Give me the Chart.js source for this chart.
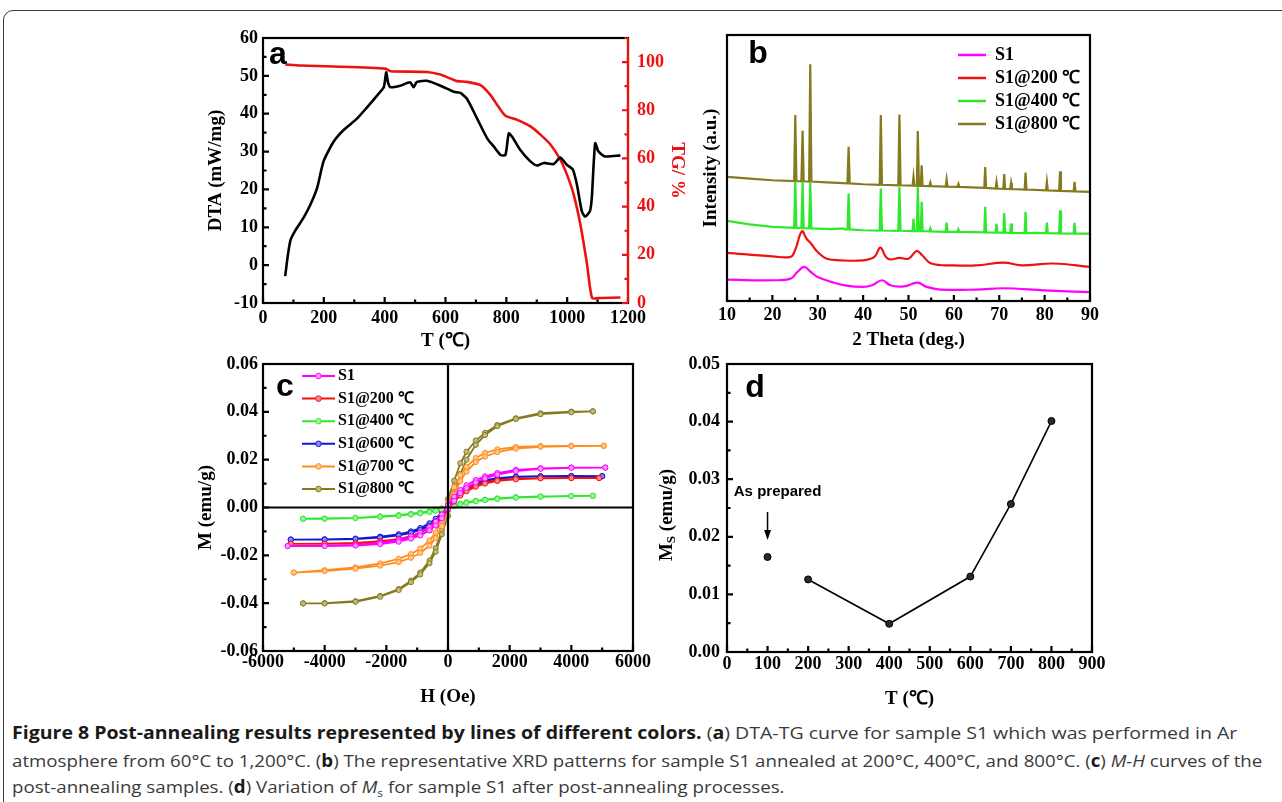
<!DOCTYPE html>
<html>
<head>
<meta charset="utf-8">
<script src="https://cdn.jsdelivr.net/npm/chart.js@4.4.0/dist/chart.umd.min.js"></script>
<style>
  body { margin: 0; background: #fff; width: 1282px; height: 802px; overflow: hidden; position: relative; }
  .frame { position: absolute; left: 3px; top: 10px; width: 1320px; height: 840px; border: 1.5px solid #3a3a3a; border-radius: 10px; }
  canvas { position: absolute; }
  #chartA { left: 190px; top: 20px; }
  #chartB { left: 690px; top: 20px; }
  #chartC { left: 185px; top: 350px; }
  #chartD { left: 655px; top: 348px; }
  .cap { position: absolute; left: 12px; font-family: "Open Sans", "Noto Sans", sans-serif; font-size: 17px; line-height: 20px; color: #3a3a3a; white-space: nowrap; transform-origin: left center; }
  .cap b { color: #1a1a1a; }
</style>
</head>
<body>
<div class="frame"></div>
<canvas id="chartA" width="500" height="340"></canvas>
<canvas id="chartB" width="420" height="340"></canvas>
<canvas id="chartC" width="470" height="365"></canvas>
<canvas id="chartD" width="455" height="367"></canvas>

<div class="cap" data-w="1225" style="top:723px"><b>Figure 8 Post-annealing results represented by lines of different colors.</b> (<b>a</b>) DTA-TG curve for sample S1 which was performed in Ar</div>
<div class="cap" data-w="1250" style="top:751px">atmosphere from 60°C to 1,200°C. (<b>b</b>) The representative XRD patterns for sample S1 annealed at 200°C, 400°C, and 800°C. (<b>c</b>) <i>M-H</i> curves of the</div>
<div class="cap" data-w="773" style="top:777px">post-annealing samples. (<b>d</b>) Variation of <i>M</i><sub style="font-size:11px">s</sub> for sample S1 after post-annealing processes.</div>

<script>
// ---- (a) DTA / TG ----
const dtaTemp = [73, 81, 90, 106, 134, 156, 178, 199, 232, 265, 309, 342, 375, 397, 405, 411, 419, 451, 484, 495,
  506, 539, 583, 627, 649, 671, 704, 737, 759, 781, 797, 808, 819, 846, 879, 901, 923, 956, 977, 999,
  1019, 1032, 1048, 1059, 1075, 1081, 1092, 1103, 1125, 1175];
const dtaSignal = [-2.9, 2.2, 6.5, 9.1, 12.6, 16, 20.4, 27.4, 32.6, 35.7, 38.7, 41.7, 44.8, 47, 50.9, 48.3, 47, 47.4, 48.3, 47,
  48.4, 48.7, 47.4, 45.8, 45.5, 43.9, 38.7, 33.5, 31.3, 29.1, 29.1, 34.8, 33.9, 30.4, 27.4, 26.3, 27, 26.7, 28.4, 26.5,
  25.2, 21.3, 14.3, 12.8, 14.3, 17.8, 32.2, 30, 28.7, 29];
const tgTemp = [73, 123, 232, 402, 419, 539, 583, 638, 671, 715, 748, 770, 797, 836, 879, 912, 945, 977, 999, 1021,
  1043, 1065, 1082, 1109, 1175];
const tgMass = [99, 98.6, 98.2, 97.3, 96.2, 95.9, 94.8, 92.1, 91.8, 90.4, 86.3, 82.2, 77.7, 76, 73.3, 69.9, 65.8, 59.6, 53.4, 45.2,
  32.9, 16.4, 2.1, 2.1, 2.3];

// ---- (b) XRD patterns, [2theta, intensity] ----
const xrdLabels = ['S1', 'S1@200 ℃', 'S1@400 ℃', 'S1@800 ℃'];
const xrdS1 = [[10, 8], [20, 7.8], [24, 8.4], [25.5, 10.9], [27, 12.8], [28.5, 10.9], [30, 9], [33, 7.2], [36, 5.9], [40, 5.3],
  [42, 5.9], [44.2, 7.8], [46, 5.9], [49, 5.5], [52, 6.9], [54, 5.3], [57, 4.3], [65, 4.3], [71, 4.8], [80, 4], [90, 3.3]];
const xrd200 = [[10, 18.1], [20, 16.8], [24, 16.6], [25, 19.1], [26.5, 26.2], [27.5, 23.5], [28.5, 21.6], [30, 18.4], [32, 15.9],
  [35, 15.3], [40, 15.3], [42.5, 16.6], [43.8, 20.1], [45, 16.6], [46, 15.6], [48, 16.2], [50, 15.9], [51.8, 18.8], [53, 17.2],
  [55, 14.1], [60, 13.4], [65, 13.4], [71, 14.4], [75, 13.4], [82, 14.1], [90, 12.8]];
const xrd400 = [[10, 30.1], [15, 28.8], [20, 27.9], [24.8, 27.5], [25.05, 44.8], [25.3, 27.5], [26.4, 27.4], [26.66, 44.8], [26.9, 27.4],
  [28.1, 27.3], [28.35, 44.4], [28.6, 27.3], [33, 27], [35.5, 27.3], [36, 26.9], [36.55, 26.9], [36.8, 40.4], [37.05, 26.9], [40, 26.6],
  [43.65, 26.5], [43.9, 42.3], [44.15, 26.5], [47.75, 26.4], [48, 42.9], [48.25, 26.4], [50.9, 26.3], [51.1, 31], [51.3, 26.3],
  [51.85, 26.3], [52.05, 42.9], [52.3, 26.3], [52.7, 26.3], [52.9, 37.3], [53.1, 26.3], [54.6, 26.2], [54.8, 27.3], [55, 26.2],
  [58.2, 26], [58.4, 29.5], [58.6, 26], [60.8, 26], [61, 26.9], [61.2, 26], [66.7, 25.8], [66.9, 35.4], [67.1, 25.8], [69.2, 25.7],
  [69.4, 29.1], [69.6, 25.7], [70.9, 25.7], [71.1, 33.1], [71.3, 25.7], [72.4, 25.6], [72.6, 29.1], [72.8, 25.6], [75.6, 25.5],
  [75.8, 33.5], [76, 25.5], [78, 25.6], [80.3, 25.5], [80.5, 29.5], [80.7, 25.5], [83.2, 25.4], [83.4, 34.1], [83.6, 25.4],
  [86.4, 25.3], [86.6, 29.4], [86.8, 25.3], [90, 25.3]];
const xrd800 = [[10, 46.7], [15, 46], [20, 45.4], [24.8, 45.1], [25.05, 69.9], [25.3, 45.1], [26.4, 45], [26.66, 64], [26.9, 45],
  [28.1, 44.9], [28.35, 89], [28.6, 44.9], [32, 44.6], [36.55, 44.2], [36.8, 58], [37.05, 44.2], [40, 43.9], [43.65, 43.7],
  [43.9, 69.9], [44.15, 43.7], [47.75, 43.5], [48, 70.1], [48.25, 43.5], [50.9, 43.4], [51.1, 46.7], [51.3, 43.4], [51.85, 43.3],
  [52.05, 63.9], [52.3, 43.3], [52.7, 43.3], [52.9, 51], [53.1, 43.3], [54.6, 43.2], [54.8, 44.5], [55, 43.2], [58.2, 43],
  [58.4, 45.7], [58.6, 43], [60.8, 42.9], [61, 44], [61.2, 42.9], [66.7, 42.5], [66.9, 50.4], [67.1, 42.5], [69.2, 42.3],
  [69.4, 44.8], [69.6, 42.3], [70.9, 42.2], [71.1, 47.7], [71.3, 42.2], [72.4, 42.1], [72.6, 44.4], [72.8, 42.1], [75.6, 41.9],
  [75.8, 48.3], [76, 41.9], [80.3, 41.6], [80.5, 44.8], [80.7, 41.6], [83.2, 41.4], [83.4, 48.8], [83.6, 41.4], [86.4, 41.2],
  [86.6, 44.8], [86.8, 41.2], [90, 41]];

// ---- (c) M-H loops ----
const mhLabels = ['S1', 'S1@200 ℃', 'S1@400 ℃', 'S1@600 ℃', 'S1@700 ℃', 'S1@800 ℃'];
const fieldGrid = [-4000, -3000, -2200, -1600, -1200, -900, -600, -400, -200, 0, 200, 400, 600, 900, 1200, 1600, 2200, 3000, 4000];
const fieldMin = [-5200, -5100, -4700, -5100, -5000, -4700];
const fieldMax = [5100, 4900, 4700, 5000, 5050, 4700];
// ascending-field branch
const mUp = [
  [-0.0161, -0.0161, -0.0159, -0.0153, -0.0143, -0.0130, -0.0117, -0.0095, -0.0075, -0.0045, -0.0008, 0.0028, 0.0060, 0.0082, 0.0105, 0.0122, 0.0138, 0.0152, 0.0162, 0.0166, 0.0167],
  [-0.0152, -0.0152, -0.0150, -0.0145, -0.0138, -0.0128, -0.0115, -0.0095, -0.0074, -0.0044, -0.0008, 0.0025, 0.0050, 0.0068, 0.0087, 0.0100, 0.0111, 0.0118, 0.0122, 0.0123, 0.0123],
  [-0.0047, -0.0047, -0.0044, -0.0039, -0.0034, -0.0029, -0.0025, -0.0019, -0.0014, -0.0008, -0.0002, 0.0006, 0.0013, 0.0019, 0.0026, 0.0031, 0.0036, 0.0041, 0.0045, 0.0048, 0.0049],
  [-0.0134, -0.0134, -0.0132, -0.0126, -0.0117, -0.0106, -0.0094, -0.0076, -0.0058, -0.0034, -0.0005, 0.0028, 0.0055, 0.0075, 0.0096, 0.0110, 0.0120, 0.0127, 0.0130, 0.0131, 0.0131],
  [-0.0272, -0.0266, -0.0256, -0.0243, -0.0228, -0.0210, -0.0190, -0.0160, -0.0128, -0.0078, -0.0015, 0.0055, 0.0110, 0.0150, 0.0190, 0.0213, 0.0232, 0.0246, 0.0254, 0.0257, 0.0258],
  [-0.0401, -0.0401, -0.0394, -0.0373, -0.0345, -0.0312, -0.0280, -0.0233, -0.0185, -0.0112, -0.0035, 0.0060, 0.0140, 0.0200, 0.0262, 0.0303, 0.0340, 0.0370, 0.0390, 0.0398, 0.0402]
];
// descending-field branch (listed in ascending field order)
const mDown = [
  [-0.0161, -0.0160, -0.0156, -0.0148, -0.0136, -0.0121, -0.0106, -0.0083, -0.0060, -0.0030, 0.0010, 0.0045, 0.0073, 0.0093, 0.0115, 0.0130, 0.0144, 0.0157, 0.0164, 0.0167, 0.0167],
  [-0.0152, -0.0151, -0.0148, -0.0141, -0.0132, -0.0120, -0.0105, -0.0083, -0.0060, -0.0030, 0.0008, 0.0038, 0.0060, 0.0076, 0.0093, 0.0105, 0.0114, 0.0120, 0.0123, 0.0124, 0.0124],
  [-0.0047, -0.0046, -0.0043, -0.0037, -0.0032, -0.0026, -0.0021, -0.0015, -0.0010, -0.0004, 0.0003, 0.0009, 0.0016, 0.0022, 0.0028, 0.0033, 0.0038, 0.0043, 0.0046, 0.0048, 0.0049],
  [-0.0134, -0.0133, -0.0130, -0.0122, -0.0112, -0.0100, -0.0086, -0.0066, -0.0047, -0.0022, 0.0008, 0.0040, 0.0065, 0.0083, 0.0102, 0.0114, 0.0123, 0.0129, 0.0131, 0.0132, 0.0131],
  [-0.0272, -0.0262, -0.0250, -0.0234, -0.0215, -0.0195, -0.0172, -0.0138, -0.0105, -0.0055, 0.0020, 0.0085, 0.0135, 0.0170, 0.0207, 0.0228, 0.0243, 0.0253, 0.0257, 0.0258, 0.0258],
  [-0.0401, -0.0400, -0.0392, -0.0370, -0.0341, -0.0306, -0.0272, -0.0222, -0.0170, -0.0095, 0.0035, 0.0112, 0.0185, 0.0233, 0.0280, 0.0312, 0.0345, 0.0373, 0.0394, 0.0401, 0.0402]
];

// ---- (d) saturation magnetisation ----
const annealTemp = [200, 400, 600, 700, 800];
const annealMs = [0.0126, 0.0049, 0.0131, 0.0257, 0.0401];
const preparedTemp = 100;
const preparedMs = 0.0165;

const serif = "'Liberation Serif', 'Times New Roman', serif";
const sans = "'Liberation Sans', Arial, sans-serif";
const tickFont = { family: serif, size: 18, weight: 'bold', lineHeight: 1 };
const titleFont = { family: serif, size: 19, weight: 'bold', lineHeight: 1 };
const xrdColors = ['#ff00ff', '#f01010', '#2ee82e', '#857a1e'];
const mhColors = ['#ff00ff', '#f01010', '#2ee82e', '#1515d0', '#ff8c1e', '#857a1e'];
const mhFills = ['#ff9cff', '#ff8a8a', '#9cf59c', '#8a8aff', '#ffc58a', '#c2b97a'];

function fixSize(w, h) {
  return (s) => {
    if (w != null) s.width = w;
    if (h != null) s.height = h;
  };
}
const intLabel = (v) => String(v);
const decLabel = (v) => (Math.abs(v) < 1e-9 ? '0.00' : v.toFixed(2));

function axis(extra) {
  return Object.assign({
    type: 'linear',
    grid: { display: false, drawTicks: false },
    border: { display: false },
    ticks: { font: tickFont, color: '#000', autoSkip: false, maxRotation: 0 }
  }, extra);
}

// box, inward ticks, panel letter
const framePlugin = {
  id: 'frame',
  afterDatasetsDraw(chart, args, opts) {
    const { ctx, chartArea: a, scales } = chart;
    ctx.save();
    ctx.lineWidth = 2.2;
    ctx.strokeStyle = '#000';
    if (opts.zeroLines) {
      const x0 = scales.x.getPixelForValue(0);
      const y0 = scales.y.getPixelForValue(0);
      ctx.beginPath();
      ctx.moveTo(x0, a.top); ctx.lineTo(x0, a.bottom);
      ctx.moveTo(a.left, y0); ctx.lineTo(a.right, y0);
      ctx.stroke();
    }
    ctx.strokeRect(a.left, a.top, a.right - a.left, a.bottom - a.top);
    (opts.marks || []).forEach((m) => {
      const s = scales[m.scale];
      const half = m.step / 2;
      const n = Math.round((s.max - s.min) / half);
      ctx.strokeStyle = m.color || '#000';
      ctx.beginPath();
      if (m.side === 'right') { ctx.moveTo(a.right, a.top); ctx.lineTo(a.right, a.bottom); }
      for (let i = 0; i <= n; i++) {
        const p = s.getPixelForValue(s.min + i * half);
        const len = i % 2 === 0 ? 6 : 3.5;
        if (m.side === 'bottom') { ctx.moveTo(p, a.bottom); ctx.lineTo(p, a.bottom - len); }
        else if (m.side === 'left') { ctx.moveTo(a.left, p); ctx.lineTo(a.left + len, p); }
        else { ctx.moveTo(a.right, p); ctx.lineTo(a.right - len, p); }
      }
      ctx.stroke();
    });
    if (opts.letter) {
      ctx.fillStyle = '#000';
      ctx.font = 'bold 32px ' + sans;
      ctx.textAlign = 'center';
      ctx.textBaseline = 'middle';
      ctx.fillText(opts.letter, a.left + opts.letterAt[0], a.top + opts.letterAt[1]);
    }
    ctx.restore();
  }
};

// in-plot key drawn from the datasets
const keyPlugin = {
  id: 'key',
  afterDraw(chart, args, opts) {
    if (!opts.len) return;
    const { ctx, chartArea: a } = chart;
    ctx.save();
    ctx.font = `bold ${opts.size}px ${serif}`;
    ctx.textBaseline = 'middle';
    ctx.textAlign = 'left';
    chart.data.datasets.forEach((ds, i) => {
      const x = a.left + opts.x;
      const y = a.top + opts.y + i * opts.dy;
      ctx.strokeStyle = ds.borderColor;
      ctx.lineWidth = opts.width;
      ctx.beginPath(); ctx.moveTo(x, y); ctx.lineTo(x + opts.len, y); ctx.stroke();
      if (opts.marker) {
        ctx.fillStyle = ds.pointBackgroundColor;
        ctx.lineWidth = 1;
        ctx.beginPath(); ctx.arc(x + opts.len / 2, y, 2.8, 0, Math.PI * 2); ctx.fill(); ctx.stroke();
      }
      ctx.fillStyle = '#000';
      ctx.fillText(ds.label, x + opts.len + opts.gap, y);
    });
    ctx.restore();
  }
};

Chart.defaults.animation = false;
Chart.defaults.responsive = false;
Chart.defaults.plugins.legend.display = false;
Chart.defaults.plugins.tooltip.enabled = false;

// (a)
new Chart(document.getElementById('chartA'), {
  type: 'scatter',
  data: {
    datasets: [
      { data: dtaTemp.map((t, i) => ({ x: t, y: dtaSignal[i] })), yAxisID: 'y', showLine: true, borderColor: '#000',
        borderWidth: 2.6, pointRadius: 0, tension: 0.2 },
      { data: tgTemp.map((t, i) => ({ x: t, y: tgMass[i] })), yAxisID: 'tg', showLine: true, borderColor: '#ee1111',
        borderWidth: 2.6, pointRadius: 0, tension: 0.2 }
    ]
  },
  options: {
    layout: { padding: { top: 15, right: 0, left: 0, bottom: 0 } },
    scales: {
      x: axis({ min: 0, max: 1200, afterFit: fixSize(null, 57),
        ticks: { font: tickFont, color: '#000', stepSize: 200, padding: 6, callback: intLabel, autoSkip: false, maxRotation: 0 },
        title: { display: true, text: 'T (℃)', font: titleFont, color: '#000', padding: { top: 0, bottom: 9.5 } } }),
      y: axis({ position: 'left', min: -10, max: 60, afterFit: fixSize(73, null),
        ticks: { font: tickFont, color: '#000', stepSize: 10, padding: 5, callback: intLabel, autoSkip: false },
        title: { display: true, text: 'DTA (mW/mg)', font: titleFont, color: '#000', padding: { top: 16.5, bottom: 0 } } }),
      tg: axis({ position: 'right', min: 0, max: 110, afterFit: fixSize(62, null),
        ticks: { font: tickFont, color: '#ee1111', stepSize: 20, padding: 9, includeBounds: false, callback: intLabel, autoSkip: false },
        title: { display: true, text: 'TG/ %', font: titleFont, color: '#ee1111', padding: { top: 3.5, bottom: 0 } } })
    },
    plugins: {
      frame: {
        letter: 'a', letterAt: [15, 17],
        marks: [
          { scale: 'x', side: 'bottom', step: 200 },
          { scale: 'y', side: 'left', step: 10 },
          { scale: 'tg', side: 'right', step: 20, color: '#ee1111' }
        ]
      }
    }
  },
  plugins: [framePlugin]
});

// (b)
const xrdData = [xrdS1, xrd200, xrd400, xrd800];
new Chart(document.getElementById('chartB'), {
  type: 'scatter',
  data: {
    datasets: xrdLabels.map((label, k) => ({
      label, data: xrdData[k].map((p) => ({ x: p[0], y: p[1] })), showLine: true,
      borderColor: xrdColors[k], borderWidth: 2.2, pointRadius: 0, tension: k < 2 ? 0.4 : 0
    }))
  },
  options: {
    layout: { padding: { top: 15, right: 20, left: 0, bottom: 0 } },
    scales: {
      x: axis({ min: 10, max: 90, afterFit: fixSize(null, 59),
        ticks: { font: tickFont, color: '#000', stepSize: 10, padding: 5, callback: intLabel, autoSkip: false, maxRotation: 0 },
        title: { display: true, text: '2 Theta (deg.)', font: titleFont, color: '#000', padding: { top: 0, bottom: 10.5 } } }),
      y: axis({ min: 0, max: 100, afterFit: fixSize(37, null),
        ticks: { display: false },
        title: { display: true, text: 'Intensity (a.u.)', font: titleFont, color: '#000', padding: { top: 11.5, bottom: 0 } } })
    },
    plugins: {
      frame: { letter: 'b', letterAt: [31, 19], marks: [{ scale: 'x', side: 'bottom', step: 10 }] },
      key: { x: 231, y: 20, dy: 23, len: 28, gap: 9, size: 18, width: 2.5 }
    }
  },
  plugins: [framePlugin, keyPlugin]
});

// (c)
new Chart(document.getElementById('chartC'), {
  type: 'scatter',
  data: {
    datasets: mhLabels.map((label, k) => {
      const field = [fieldMin[k], ...fieldGrid, fieldMax[k]];
      const up = field.map((h, i) => ({ x: h, y: mUp[k][i] }));
      const down = field.map((h, i) => ({ x: h, y: mDown[k][i] })).reverse();
      return {
        label, data: down.concat(up), showLine: true, borderColor: mhColors[k], borderWidth: 1.8,
        pointRadius: 2.6, pointBorderWidth: 1, pointBackgroundColor: mhFills[k], pointBorderColor: mhColors[k]
      };
    })
  },
  options: {
    layout: { padding: { top: 10, right: 22, left: 0, bottom: 0 } },
    scales: {
      x: axis({ min: -6000, max: 6000, afterFit: fixSize(null, 64),
        ticks: { font: tickFont, color: '#000', stepSize: 2000, padding: 2, callback: intLabel, autoSkip: false, maxRotation: 0 },
        title: { display: true, text: 'H (Oe)', font: titleFont, color: '#000', padding: { top: 0, bottom: 8.5 } } }),
      y: axis({ min: -0.06, max: 0.06, afterFit: fixSize(78, null),
        ticks: { font: tickFont, color: '#000', stepSize: 0.02, padding: 5, callback: decLabel, autoSkip: false },
        title: { display: true, text: 'M (emu/g)', font: titleFont, color: '#000', padding: { top: 11.5, bottom: 0 } } })
    },
    plugins: {
      frame: {
        letter: 'c', letterAt: [22, 23], zeroLines: true,
        marks: [
          { scale: 'x', side: 'bottom', step: 2000 },
          { scale: 'y', side: 'left', step: 0.02 }
        ]
      },
      key: { x: 39, y: 12, dy: 22.6, len: 33, gap: 3, size: 16, width: 2, marker: true }
    }
  },
  plugins: [framePlugin, keyPlugin]
});

// (d) y title with subscript, arrow and note for the as-prepared point
const msPlugin = {
  id: 'msNotes',
  afterDraw(chart) {
    const { ctx, chartArea: a, scales } = chart;
    ctx.save();
    // axis title
    ctx.translate(a.left - 60, (a.top + a.bottom) / 2 + 7);
    ctx.rotate(-Math.PI / 2);
    ctx.fillStyle = '#000';
    ctx.textBaseline = 'middle';
    ctx.textAlign = 'left';
    const big = 'bold 19px ' + serif;
    const small = 'bold 13px ' + serif;
    ctx.font = big; const wM = ctx.measureText('M').width; const wRest = ctx.measureText(' (emu/g)').width;
    ctx.font = small; const wS = ctx.measureText('S').width;
    let x = -(wM + wS + wRest) / 2;
    ctx.font = big; ctx.fillText('M', x, 0); x += wM;
    ctx.font = small; ctx.fillText('S', x, 5); x += wS;
    ctx.font = big; ctx.fillText(' (emu/g)', x, 0);
    ctx.restore();

    // arrow + label
    const px = scales.x.getPixelForValue(preparedTemp);
    const py = scales.y.getPixelForValue(preparedMs);
    ctx.save();
    ctx.strokeStyle = '#000';
    ctx.fillStyle = '#000';
    ctx.lineWidth = 1.5;
    ctx.beginPath(); ctx.moveTo(px, py - 45); ctx.lineTo(px, py - 24); ctx.stroke();
    ctx.beginPath(); ctx.moveTo(px, py - 17); ctx.lineTo(px - 3.5, py - 27); ctx.lineTo(px + 3.5, py - 27); ctx.closePath(); ctx.fill();
    ctx.font = 'bold 15px ' + sans;
    ctx.textAlign = 'center';
    ctx.textBaseline = 'middle';
    ctx.fillText('As prepared', px + 10, py - 65);
    ctx.restore();
  }
};

new Chart(document.getElementById('chartD'), {
  type: 'scatter',
  data: {
    datasets: [
      { data: annealTemp.map((t, i) => ({ x: t, y: annealMs[i] })), showLine: true, borderColor: '#000', borderWidth: 1.6,
        pointRadius: 3.5, pointBackgroundColor: '#2a2a2a', pointBorderColor: '#000', pointBorderWidth: 1 },
      { data: [{ x: preparedTemp, y: preparedMs }], showLine: false,
        pointRadius: 3.5, pointBackgroundColor: '#2a2a2a', pointBorderColor: '#000', pointBorderWidth: 1 }
    ]
  },
  options: {
    layout: { padding: { top: 10, right: 18, left: 0, bottom: 0 } },
    scales: {
      x: axis({ min: 0, max: 900, afterFit: fixSize(null, 63),
        ticks: { font: tickFont, color: '#000', stepSize: 100, padding: 3, callback: intLabel, autoSkip: false, maxRotation: 0 },
        title: { display: true, text: 'T (℃)', font: titleFont, color: '#000', padding: { top: 0, bottom: 6.5 } } }),
      y: axis({ min: 0, max: 0.05, afterFit: fixSize(72, null),
        ticks: { font: tickFont, color: '#000', stepSize: 0.01, padding: 7, callback: decLabel, autoSkip: false } })
    },
    plugins: {
      frame: {
        letter: 'd', letterAt: [28, 24],
        marks: [
          { scale: 'x', side: 'bottom', step: 100 },
          { scale: 'y', side: 'left', step: 0.01 }
        ]
      }
    }
  },
  plugins: [framePlugin, msPlugin]
});

// squeeze caption lines to the column width
document.querySelectorAll('.cap').forEach((el) => {
  const target = Number(el.dataset.w);
  el.style.transform = `scaleX(${target / el.offsetWidth})`;
});
</script>
</body>
</html>
